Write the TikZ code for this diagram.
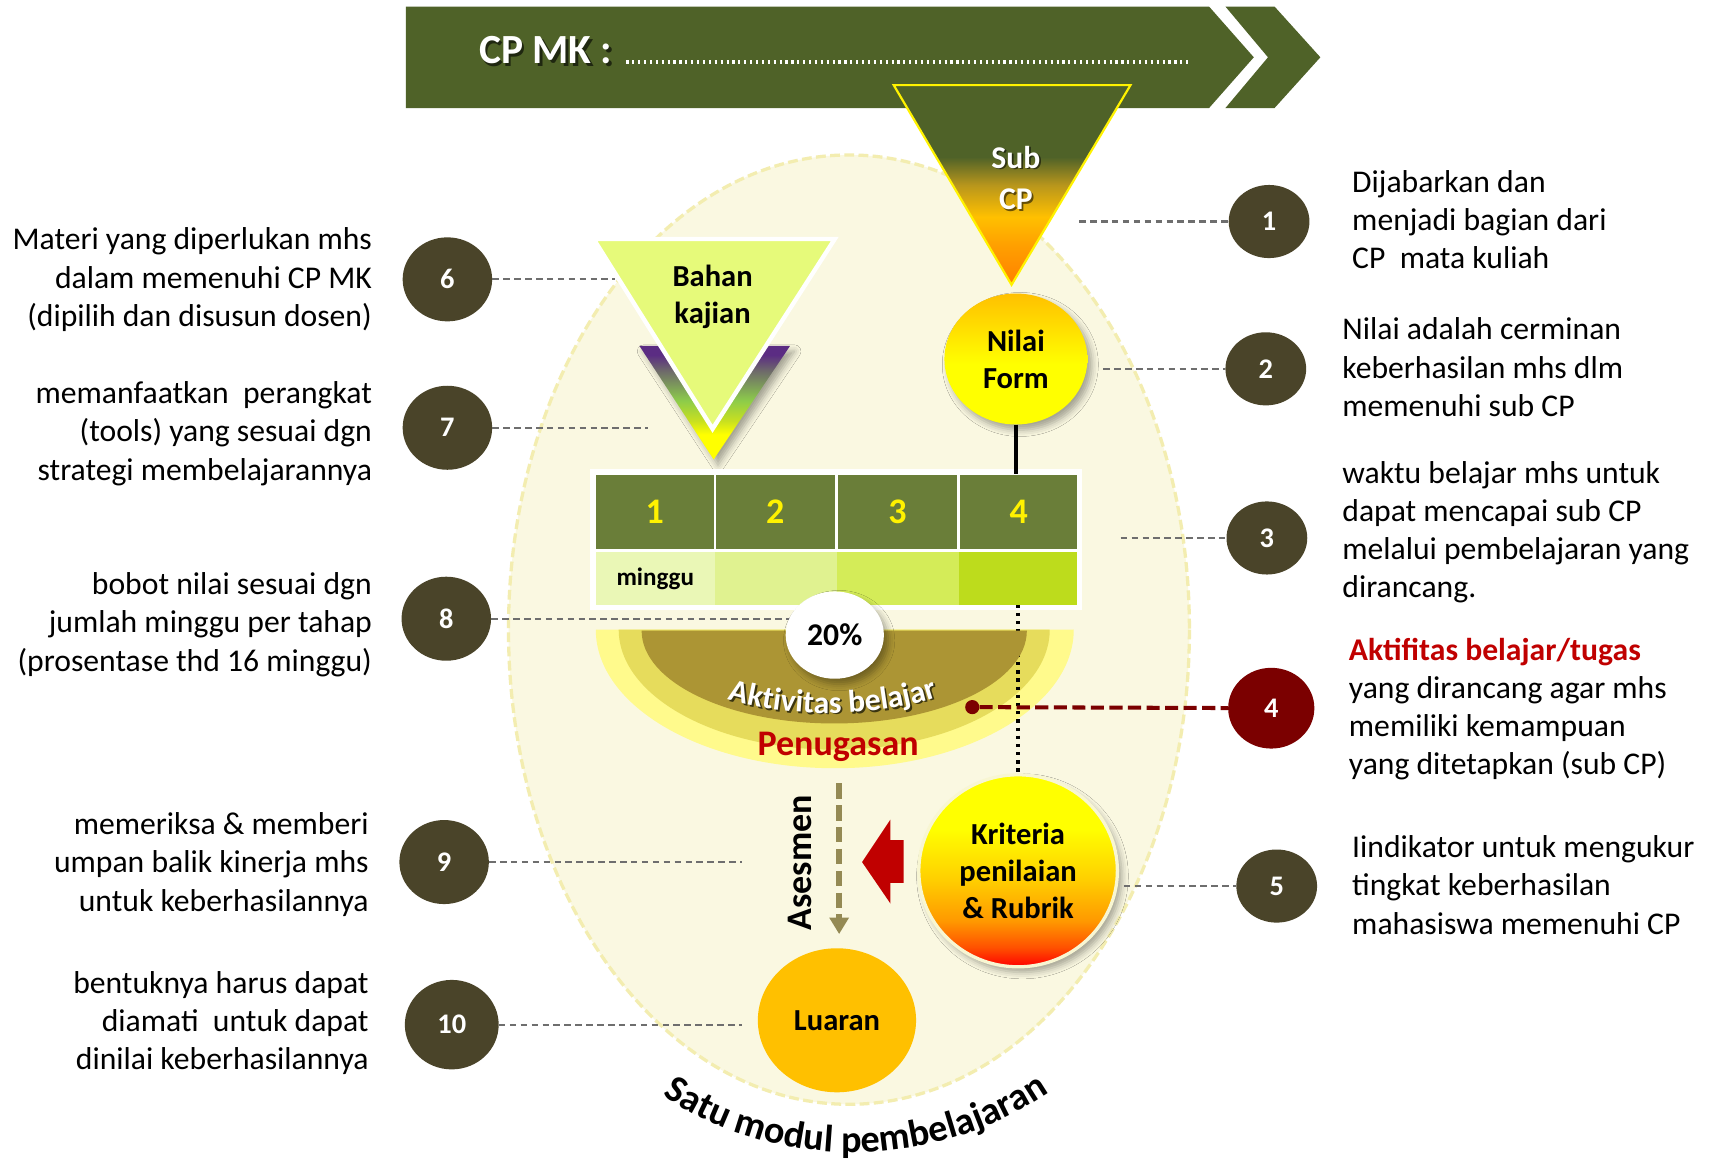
\documentclass[tikz,border=0pt]{standalone}
\usepackage{fontspec}
\setmainfont{Carlito}
\usetikzlibrary{shapes.geometric,decorations.text,shadows.blur,arrows.meta}
\definecolor{bannergreen}{HTML}{4F6228}
\definecolor{numbrown}{HTML}{4A4429}
\definecolor{darkredfour}{HTML}{7B0000}
\definecolor{redtxt}{HTML}{C00000}
\definecolor{ellfill}{HTML}{FAF8E1}
\definecolor{elledge}{HTML}{F3EDB0}
\definecolor{hdrgreen}{HTML}{6A7E39}
\definecolor{wkA}{HTML}{EAF7B6}
\definecolor{wkB}{HTML}{E0F290}
\definecolor{wkC}{HTML}{D4EC58}
\definecolor{wkD}{HTML}{BDDC1C}
\definecolor{bahanfill}{HTML}{E6FA7A}
\definecolor{hdA}{HTML}{FFFA8C}
\definecolor{hdB}{HTML}{E6DC5C}
\definecolor{hdC}{HTML}{AC9534}
\definecolor{asesgrey}{HTML}{948A54}
\definecolor{luaranfill}{HTML}{FFC000}
\definecolor{conngrey}{HTML}{6E6E6E}
\definecolor{txtshadow}{HTML}{3A3410}
\definecolor{cpA}{HTML}{FF8000}
\definecolor{cpB}{HTML}{FFA000}
\definecolor{cpC}{HTML}{FFC000}
\definecolor{cpD}{HTML}{B8961C}
\definecolor{goldc}{HTML}{FFC000}
\definecolor{vPurple}{HTML}{5B2C83}
\definecolor{vGrey}{HTML}{6E6A6A}
\definecolor{vGreen}{HTML}{8CCB4A}
\definecolor{vYG}{HTML}{C8E020}
\definecolor{krA}{HTML}{FF0000}
\definecolor{krB}{HTML}{FF5000}
\definecolor{krC}{HTML}{FF9900}
\definecolor{krD}{HTML}{FFD000}
\definecolor{kredge}{HTML}{F8F6D2}
\pgfdeclareverticalshading{subcpshade}{100bp}{color(0bp)=(cpA); color(25bp)=(cpA); color(35bp)=(cpB); color(42bp)=(cpC); color(50bp)=(cpD); color(57bp)=(bannergreen); color(100bp)=(bannergreen)}
\pgfdeclareverticalshading{nilaishade}{100bp}{color(0bp)=(yellow); color(48bp)=(yellow); color(75bp)=(goldc); color(100bp)=(goldc)}
\pgfdeclareverticalshading{vshade}{100bp}{color(0bp)=(yellow); color(36bp)=(yellow); color(42bp)=(vYG); color(51bp)=(vGreen); color(64bp)=(vGrey); color(71bp)=(vPurple); color(100bp)=(vPurple)}
\pgfdeclareverticalshading{kritshade}{100bp}{color(0bp)=(krA); color(25bp)=(krA); color(30bp)=(krB); color(37bp)=(krC); color(48bp)=(krD); color(61bp)=(yellow); color(100bp)=(yellow)}
\newcommand\txtbody{\fontsize{29}{35}\selectfont}
\newcommand\txtshape{\fontsize{28}{34}\selectfont\bfseries}
\newcommand\txtnum{\fontsize{26}{30}\selectfont\bfseries}
\newcommand\aktw{\fontsize{29}{30}\selectfont\bfseries\color{white}}
\newcommand\aktsh{\fontsize{29}{30}\selectfont\bfseries\color{txtshadow}}
\newcommand\satuf{\fontsize{35}{38}\selectfont\bfseries}
\newcommand\blockL[1]{\begin{tabular}[t]{@{}l@{}}#1\end{tabular}}
\newcommand\blockR[1]{\begin{tabular}[t]{@{}r@{}}#1\end{tabular}}
\tikzset{
  numc/.style={ellipse, fill=numbrown, text=white, font=\txtnum, inner sep=0pt, minimum width=74pt, minimum height=67pt},
  numcL/.style={numc, minimum width=82pt, minimum height=77pt},
  conn/.style={conngrey, line width=2pt, dash pattern=on 6pt off 4pt},
  bodytxt/.style={font=\txtbody, inner sep=0pt},
  shapetxt/.style={font=\txtshape, align=center, inner sep=0pt},
  hdrcell/.style={fill=hdrgreen, text=yellow, font=\fontsize{33}{34}\selectfont\bfseries, inner sep=0pt, minimum height=68pt},
  wkcell/.style={inner sep=0pt, minimum height=48pt, font=\fontsize{23}{26}\selectfont\bfseries},
  softshadow/.style={blur shadow={shadow xshift=4pt, shadow yshift=-5pt, shadow blur radius=6pt, shadow opacity=35}},
}
\begin{document}
\begin{tikzpicture}[x=1pt,y=-1pt]
\useasboundingbox[fill=white] (0,0) rectangle (1568,1066);
% banner
\fill[bannergreen] (372,6) -- (1108,6) -- (1149,52.5) -- (1108,99) -- (372,99) -- cycle;
\fill[bannergreen] (1123,6) -- (1168,6) -- (1210,52.5) -- (1168,99) -- (1123,99) -- (1162,52.5) -- cycle;
\node[anchor=base west, inner sep=0pt, font=\fontsize{38}{40}\selectfont\bfseries, text=black, opacity=0.6] (cpmksh) at (441.5,60.5) {CP MK :};
\node[anchor=base west, inner sep=0pt, font=\fontsize{38}{40}\selectfont\bfseries, text=white] (cpmk) at (439,58) {CP MK :};
\draw[white, line width=3.5pt, dash pattern=on 2pt off 3.4pt] (574,56.5) -- (1090,56.5);
% module ellipse
\draw[elledge, line width=3pt, dash pattern=on 9pt off 4pt, fill=ellfill] (778,577) ellipse [x radius=312, y radius=435];
% Sub CP
\shadedraw[shading=subcpshade, draw=yellow, line width=2pt] (819,78) -- (1036,78) -- (927,261) -- cycle;
\node[font=\fontsize{29}{38}\selectfont\bfseries, align=center, text=black, opacity=0.55] (subcpsh) at (932.5,164.5) {Sub\\CP};
\node[font=\fontsize{29}{38}\selectfont\bfseries, align=center, text=white] (subcp) at (931,163) {Sub\\CP};
% Nilai Form
\node[ellipse, shading=nilaishade, minimum width=131pt, minimum height=120pt, softshadow, font=\txtshape, align=center, inner sep=0pt] (nilai) at (931,329) {Nilai\\Form};
% Bahan kajian
\shade[shading=vshade, softshadow] (586,317) -- (724,317) -- (654,421) -- cycle;
\filldraw[fill=bahanfill, draw=white, line width=4pt] (544,219) -- (765,219) -- (653,393) -- cycle;
\node[shapetxt] (bahan) at (653,272) {Bahan\\kajian};
% table
\fill[white] (541,430) rectangle (992,559);
\node[hdrcell, minimum width=108pt] (h1) at (600,469) {1};
\node[hdrcell, minimum width=109pt] (h2) at (710.5,469) {2};
\node[hdrcell, minimum width=109pt] (h3) at (822.5,469) {3};
\node[hdrcell, minimum width=107pt] (h4) at (933.5,469) {4};
\node[wkcell, fill=wkA, minimum width=109pt] (r1) at (600.5,530) {minggu};
\node[wkcell, fill=wkB, minimum width=112pt] (r2) at (711,530) {};
\node[wkcell, fill=wkC, minimum width=112pt] (r3) at (823,530) {};
\node[wkcell, fill=wkD, minimum width=108pt] (r4) at (933,530) {};
\draw[line width=3.5pt] (nilai.south) -- (nilai.south |- h4.north);
% half disk
\fill[hdA] (546,577) arc[start angle=180, end angle=0, x radius=219, y radius=127] -- cycle;
\fill[hdB] (567,577) arc[start angle=180, end angle=0, x radius=197.5, y radius=110] -- cycle;
\node[ellipse, shading=kritshade, draw=kredge, line width=3pt, minimum width=182pt, minimum height=176pt, softshadow, font=\txtshape, align=center, inner sep=0pt] (krit) at (933,798) {Kriteria\\penilaian\\\& Rubrik};
\draw[line width=3pt, dash pattern=on 3pt off 4.5pt] (krit.north |- r4.south) -- (krit.north);
\fill[hdC] (588,578) arc[start angle=180, end angle=0, x radius=176.5, y radius=85] -- cycle;
\path[decorate, decoration={text along path, text align=center, text={|\aktsh|Aktivitas belajar}}] (661.5,640.5) .. controls (720.5,660.5) and (806.5,660.5) .. (868.5,637.5);
\path[decorate, decoration={text along path, text align=center, text={|\aktw|Aktivitas belajar}}] (660,639) .. controls (719,659) and (805,659) .. (867,636);
\node[font=\fontsize{33}{34}\selectfont\bfseries, text=redtxt, inner sep=0pt] (penug) at (768,684.5) {Penugasan};
% numbered circles
\node[numc] (n1) at (1163,203) {1};
\node[numc] (n2) at (1160,338) {2};
\node[numc] (n3) at (1161,493) {3};
\node[numc, fill=darkredfour, minimum width=79pt, minimum height=74pt] (n4) at (1165,649) {4};
\node[numc] (n5) at (1170,812) {5};
\node[numcL] (n6) at (410,256) {6};
\node[numcL] (n7) at (410,392) {7};
\node[numcL] (n8) at (409,567) {8};
\node[numcL] (n9) at (407,790) {9};
\node[numcL, minimum width=86pt, minimum height=82pt] (n10) at (414,939) {10};
% connector free ends
\coordinate (e1) at (989,203);
\coordinate (e2) at (1011,338);
\coordinate (e3) at (1027,493);
\coordinate (e5) at (1030,812);
\coordinate (e6) at (564,256);
\coordinate (e7) at (594,392);
\coordinate (e8) at (724,567);
\coordinate (e9) at (680,790);
\coordinate (e10) at (680,939);
\draw[conn] (e1) -- (n1);
\draw[conn] (e2) -- (n2);
\draw[conn] (e3) -- (n3);
\draw[conn] (e5) -- (n5);
\draw[conn] (n6) -- (e6);
\draw[conn] (n7) -- (e7);
\draw[conn] (n8) -- (e8);
\draw[conn] (n9) -- (e9);
\draw[conn] (n10) -- (e10);
% activity dot and red dashed line
\node[circle, fill=darkredfour, minimum size=13pt, inner sep=0pt] (dot4) at (891,648) {};
\draw[darkredfour, line width=3.7pt, dash pattern=on 12pt off 5pt] (dot4) -- (n4);
% 20 percent
\node[ellipse, fill=white, minimum width=90pt, minimum height=80pt, softshadow, font=\fontsize{29}{30}\selectfont\bfseries, inner sep=0pt] (pct) at (765,582) {20\%};
% Asesmen
\node[font=\fontsize{33}{34}\selectfont\bfseries, rotate=90, inner sep=0pt] (ases) at (733,790.5) {Asesmen};
\coordinate (as1) at (769,718);
\coordinate (as2) at (769,856);
\draw[asesgrey, line width=5pt, dash pattern=on 14pt off 6pt, -{Triangle[width=17pt,length=15pt]}] (as1) -- (as2);
\fill[redtxt] (790,790) -- (816,751) -- (816,770) -- (828,770) -- (828,809) -- (816,809) -- (816,828) -- cycle;
% Luaran
\node[ellipse, fill=luaranfill, minimum width=145pt, minimum height=132pt, font=\txtshape, inner sep=0pt] (luaran) at (767,935) {Luaran};
% Satu modul
\path[decorate, decoration={text along path, text align=center, text={|\satuf|Satu modul pembelajaran}}] (593.3,994.8) arc[start angle=126, end angle=53, radius=321];
% explanations right
\node[bodytxt, anchor=base west] (t1) at (1239,176) {\blockL{Dijabarkan dan\\menjadi bagian dari\\CP\ \ mata kuliah}};
\node[bodytxt, anchor=base west] (t2) at (1230,311.5) {\blockL{Nilai adalah cerminan\\keberhasilan mhs dlm\\memenuhi sub CP}};
\node[bodytxt, anchor=base west] (t3) at (1230,443) {\blockL{waktu belajar mhs untuk\\dapat mencapai sub CP\\melalui pembelajaran yang\\dirancang.}};
\node[bodytxt, anchor=base west] (t4) at (1236,605) {\blockL{\textcolor{redtxt}{\bfseries Aktifitas belajar/tugas}\\yang dirancang agar mhs\\memiliki kemampuan\\yang ditetapkan (sub CP)}};
\node[bodytxt, anchor=base west] (t5) at (1239,786) {\blockL{Iindikator untuk mengukur\\tingkat keberhasilan\\mahasiswa memenuhi CP}};
% explanations left
\node[bodytxt, anchor=base east] (t6) at (341,229) {\blockR{Materi yang diperlukan mhs\\dalam memenuhi CP MK\\(dipilih dan disusun dosen)}};
\node[bodytxt, anchor=base east] (t7) at (341,370) {\blockR{memanfaatkan\ \ perangkat\\(tools) yang sesuai dgn\\strategi membelajarannya}};
\node[bodytxt, anchor=base east] (t8) at (341,545) {\blockR{bobot nilai sesuai dgn\\jumlah minggu per tahap\\(prosentase thd 16 minggu)}};
\node[bodytxt, anchor=base east] (t9) at (338,765) {\blockR{memeriksa \& memberi\\umpan balik kinerja mhs\\untuk keberhasilannya}};
\node[bodytxt, anchor=base east] (t10) at (338,910) {\blockR{bentuknya harus dapat\\diamati\ \ untuk dapat\\dinilai keberhasilannya}};
\end{tikzpicture}
\end{document}
